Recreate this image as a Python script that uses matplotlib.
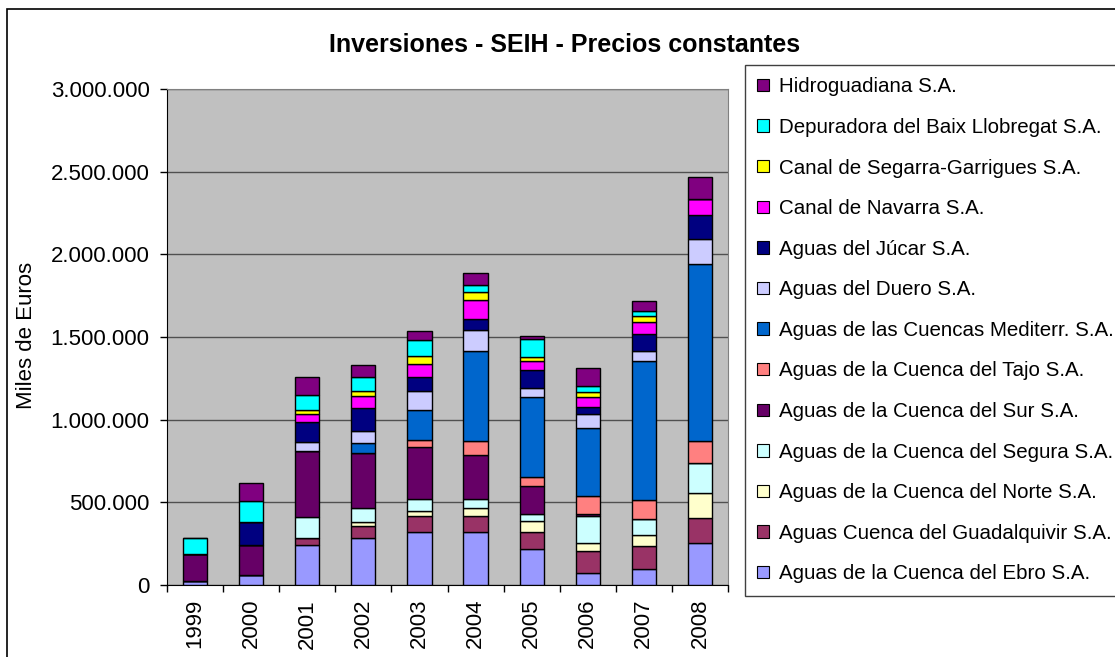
"""
Inversiones SEIH a precios constantes (miles de euros), barras apiladas por sociedad.
"""

import matplotlib
matplotlib.use('Agg')
import matplotlib.pyplot as plt
from matplotlib.patches import Patch, Rectangle
from matplotlib.ticker import FuncFormatter, MultipleLocator
import numpy as np

plt.rcParams['font.family'] = ['Liberation Sans', 'DejaVu Sans']

# Datos (miles de euros)
anios = ['1999', '2000', '2001', '2002', '2003', '2004', '2005', '2006', '2007', '2008']

ebro = [22000, 62000, 244000, 282000, 318000, 320000, 218000, 75000, 95000, 256000]
guadalquivir = [0, 0, 38000, 77000, 97000, 97000, 105000, 133000, 143000, 151000]
norte = [0, 0, 0, 20000, 30000, 50000, 66000, 48000, 66000, 151000]
segura = [0, 0, 131000, 85000, 73000, 54000, 38000, 163000, 97000, 181000]
sur = [165000, 181000, 399000, 332000, 316000, 264000, 171000, 8000, 0, 0]
tajo = [0, 0, 0, 5000, 46000, 87000, 56000, 113000, 115000, 133000]
mediterr = [0, 0, 0, 60000, 181000, 542000, 484000, 411000, 840000, 1072000]
duero = [0, 0, 54000, 73000, 113000, 131000, 56000, 85000, 58000, 151000]
jucar = [0, 141000, 117000, 135000, 85000, 66000, 105000, 38000, 103000, 141000]
navarra = [0, 0, 54000, 77000, 77000, 115000, 56000, 64000, 75000, 97000]
segarra = [0, 0, 20000, 30000, 50000, 46000, 24000, 28000, 38000, 0]
depuradora = [95000, 123000, 93000, 85000, 95000, 40000, 109000, 38000, 30000, 0]
hidroguadiana = [0, 107000, 109000, 68000, 56000, 75000, 20000, 109000, 58000, 135000]

# Series de abajo hacia arriba
series = [
    ('Aguas de la Cuenca del Ebro S.A.', ebro, '#9999FF'),
    ('Aguas Cuenca del Guadalquivir S.A.', guadalquivir, '#993366'),
    ('Aguas de la Cuenca del Norte S.A.', norte, '#FFFFCC'),
    ('Aguas de la Cuenca del Segura S.A.', segura, '#CCFFFF'),
    ('Aguas de la Cuenca del Sur S.A.', sur, '#660066'),
    ('Aguas de la Cuenca del Tajo S.A.', tajo, '#FF8080'),
    ('Aguas de las Cuencas Mediterr. S.A.', mediterr, '#0066CC'),
    ('Aguas del Duero S.A.', duero, '#CCCCFF'),
    ('Aguas del Júcar S.A.', jucar, '#000080'),
    ('Canal de Navarra S.A.', navarra, '#FF00FF'),
    ('Canal de Segarra-Garrigues S.A.', segarra, '#FFFF00'),
    ('Depuradora del Baix Llobregat S.A.', depuradora, '#00FFFF'),
    ('Hidroguadiana S.A.', hidroguadiana, '#800080'),
]

W, H = 1115, 657
fig = plt.figure(figsize=(W / 100, H / 100), dpi=100)
ax = fig.add_axes([167 / W, 1 - 585 / H, (728 - 167) / W, (585 - 89) / H])

x = np.arange(len(anios))
base = np.zeros(len(anios))
for nombre, valores, color in series:
    valores = np.array(valores, dtype=float)
    ax.bar(x, valores, width=0.43, bottom=base, color=color,
           edgecolor='black', linewidth=1.0, zorder=3)
    base += valores

ax.set_facecolor('#C0C0C0')
ax.set_xlim(-0.5, len(anios) - 0.5)
ax.set_ylim(0, 3000000)
ax.yaxis.set_major_locator(MultipleLocator(500000))
ax.yaxis.set_major_formatter(FuncFormatter(lambda v, p: f'{int(v):,}'.replace(',', '.')))
ax.grid(axis='y', color='#505050', linewidth=1.0, zorder=1)

ax.set_xticks(x)
ax.set_xticklabels(anios, rotation=90)
ax.set_xticks(np.arange(-0.5, len(anios)), minor=True)
ax.tick_params(axis='x', which='major', length=0, pad=10, labelsize=16)
ax.tick_params(axis='x', which='minor', length=5, width=1, color='black')
ax.tick_params(axis='y', length=5, width=1, color='black', labelsize=16, pad=7.5)

for lado in ['top', 'right']:
    ax.spines[lado].set_color('#808080')
for lado in ['left', 'bottom']:
    ax.spines[lado].set_color('black')

fig.text(565 / W, 1 - 45 / H, 'Inversiones - SEIH - Precios constantes',
         ha='center', va='center', fontsize=18, fontweight='bold')
fig.text(27 / W, 1 - 335 / H, 'Miles de Euros', rotation=90,
         ha='center', va='center', fontsize=16)

# Marco exterior del gráfico
fig.patches.append(Rectangle((7 / W, -0.1), 1.2, 1 - 9 / H + 0.1, transform=fig.transFigure,
                             fill=False, edgecolor='black', linewidth=1.2))

# Leyenda (de arriba hacia abajo)
handles = [Patch(facecolor=c, edgecolor='black', linewidth=0.8, label=n)
           for n, v, c in reversed(series)]
leg = fig.legend(handles=handles, loc='upper left',
                 bbox_to_anchor=(745 / W, 1 - 65 / H), fontsize=14.8,
                 frameon=True, fancybox=False, framealpha=1,
                 edgecolor='#404040', handlelength=0.55, handleheight=0.55,
                 handletextpad=0.5, labelspacing=1.05, borderpad=0.6,
                 borderaxespad=0)
leg.get_frame().set_linewidth(1.0)

plt.savefig('out.png', dpi=100)
